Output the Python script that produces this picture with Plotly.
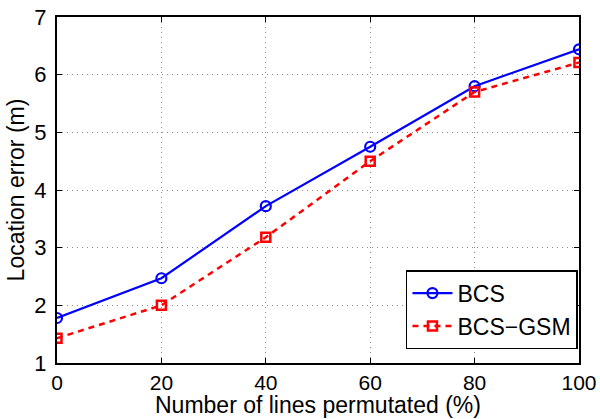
import plotly.graph_objects as go

x_vals = [0, 20, 40, 60, 80, 100]
bcs = [1.78, 2.47, 3.72, 4.75, 5.80, 6.44]
bcs_gsm = [1.43, 2.00, 3.18, 4.50, 5.70, 6.21]
x_ticks = [0, 20, 40, 60, 80, 100]
y_ticks = [1, 2, 3, 4, 5, 6, 7]
x_title = "Number of lines permutated (%)"
y_title = "Location error (m)"

fig = go.Figure()
fig.add_trace(go.Scatter(x=x_vals, y=bcs, name="BCS", mode="lines+markers",
                         line=dict(color="#0000ff", width=2.2),
                         marker=dict(symbol="circle-open", size=10, color="#0000ff", line=dict(width=2.2))))
fig.add_trace(go.Scatter(x=x_vals, y=bcs_gsm, name="BCS\u2212GSM", mode="lines+markers",
                         line=dict(color="#ff0000", width=2.5, dash="6px,5px"),
                         marker=dict(symbol="square-open", size=9, color="#ff0000", line=dict(width=2.5))))

axis_common = dict(showline=True, linecolor="black", linewidth=2, mirror="ticks",
                   ticks="inside", ticklen=5, tickcolor="black", tickwidth=1,
                   showgrid=True, gridcolor="#8a8a8a", griddash="1px,4px", gridwidth=1,
                   zeroline=False, automargin=False,
                   tickfont=dict(size=22, color="black"))
fig.update_xaxes(range=[0, 100], tickvals=x_ticks, ticklabelstandoff=0, **axis_common)
fig.update_yaxes(range=[1, 7], tickvals=y_ticks, ticklabelstandoff=4,
                 title=dict(text=y_title, font=dict(size=23, color="black"), standoff=3),
                 **axis_common)
fig.update_xaxes(tickfont=dict(size=21))

fig.add_annotation(text=x_title, xref="paper", yref="paper", x=0.5, y=0,
                   xanchor="center", yanchor="top", yshift=-27, showarrow=False,
                   font=dict(size=23, color="black"))

fig.update_layout(
    width=600, height=419,
    margin=dict(l=57, r=21, t=17, b=56),
    plot_bgcolor="white", paper_bgcolor="white",
    font=dict(family="Liberation Sans, Arial, sans-serif", color="black"),
    legend=dict(x=0.998, y=0.04, xanchor="right", yanchor="bottom",
                bordercolor="black", borderwidth=1.5, bgcolor="white",
                font=dict(size=23), itemwidth=40, tracegroupgap=0),
)

fig.write_html("out.html", config={"displayModeBar": False},
               post_script="document.body.style.margin='0';document.body.style.overflow='hidden';")
